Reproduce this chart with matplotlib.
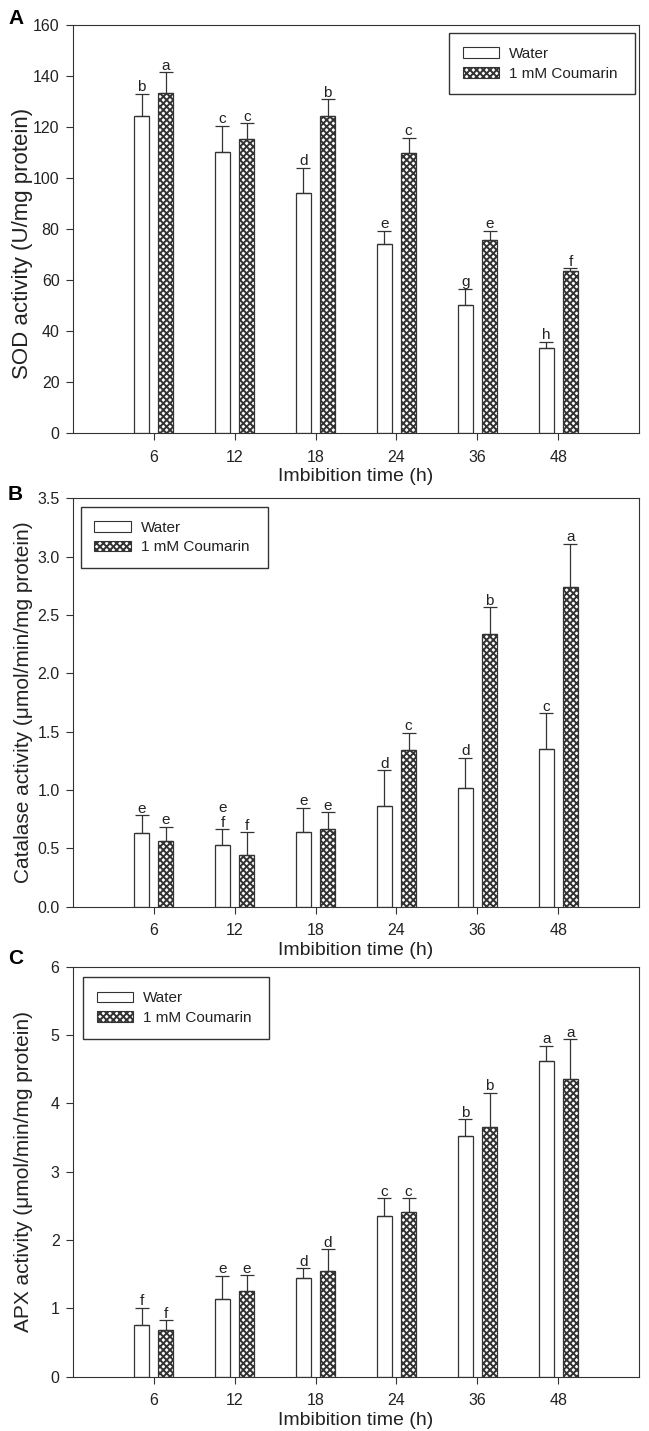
import numpy as np
import matplotlib
matplotlib.use('Agg')
import matplotlib.pyplot as plt
from matplotlib.patches import Patch

plt.rcParams['font.family'] = ['Liberation Sans', 'DejaVu Sans']
plt.rcParams['hatch.linewidth'] = 1.4

times = ['6', '12', '18', '24', '36', '48']
series_names = ['Water', '1 mM Coumarin']

# A - SOD
sod_water = [124.5, 110.1, 94.0, 74.3, 50.3, 33.6]
sod_water_err = [8.6, 10.5, 10.0, 5.1, 6.4, 2.2]
sod_coum = [133.4, 115.2, 124.5, 109.8, 75.8, 63.6]
sod_coum_err = [8.1, 6.3, 6.5, 6.1, 3.5, 1.1]
sod_water_let = ['b', 'c', 'd', 'e', 'g', 'h']
sod_coum_let = ['a', 'c', 'b', 'c', 'e', 'f']

# B - catalase
cat_water = [0.63, 0.53, 0.64, 0.86, 1.02, 1.35]
cat_water_err = [0.155, 0.135, 0.21, 0.31, 0.255, 0.31]
cat_coum = [0.56, 0.44, 0.67, 1.34, 2.34, 2.74]
cat_coum_err = [0.125, 0.20, 0.14, 0.15, 0.225, 0.37]
cat_water_let = ['e', 'e\nf', 'e', 'd', 'd', 'c']
cat_coum_let = ['e', 'f', 'e', 'c', 'b', 'a']

# C - APX
apx_water = [0.756, 1.137, 1.449, 2.351, 3.527, 4.62]
apx_water_err = [0.254, 0.341, 0.14, 0.259, 0.239, 0.224]
apx_coum = [0.683, 1.249, 1.551, 2.405, 3.649, 4.361]
apx_coum_err = [0.141, 0.239, 0.312, 0.205, 0.507, 0.58]
apx_water_let = ['f', 'e', 'd', 'c', 'b', 'a']
apx_coum_let = ['f', 'e', 'd', 'c', 'b', 'a']

LINE = '#333333'
TXT = '#222222'
HATCH = 'xxxxx'
W = 0.18
OFF = 0.15

fig = plt.figure(figsize=(6.49, 14.31), dpi=100)
left, width = 72.7/649, 566.6/649

def px_axes(top, bottom):
    return fig.add_axes([left, 1 - bottom/1431, width, (bottom - top)/1431])

def draw_panel(ax, water, werr, coum, cerr, wlet, clet, ylim, yticks, yfmt, ylabel, ylsize, ylab_y, legbox):
    x = np.arange(1, len(times) + 1)
    ax.bar(x - OFF, water, W, color='white', edgecolor=LINE, linewidth=0.9, zorder=2)
    ax.bar(x + OFF, coum, W, color='white', edgecolor=LINE, linewidth=0.9, hatch=HATCH, zorder=2)
    for xs, v, e in ((x - OFF, water, werr), (x + OFF, coum, cerr)):
        ax.errorbar(xs, v, yerr=[np.zeros(len(v)), e], fmt='none', ecolor=LINE,
                    elinewidth=0.9, capsize=4.7, capthick=0.9, zorder=3)
    for xs, v, e, lets in ((x - OFF, water, werr, wlet), (x + OFF, coum, cerr, clet)):
        for xi, vi, ei, l in zip(xs, v, e, lets):
            ax.annotate(l, (xi, vi + ei), xytext=(0, -0.4), textcoords='offset points',
                        ha='center', va='bottom', fontsize=11, color=TXT, linespacing=1.1)
    ax.set_xlim(0, 7)
    ax.set_ylim(*ylim)
    ax.set_xticks(x)
    ax.set_xticklabels(times)
    ax.set_yticks(yticks)
    ax.set_yticklabels([yfmt.format(t) for t in yticks])
    ax.tick_params(axis='both', direction='out', length=5, width=0.8, color=LINE,
                   labelsize=11.5, labelcolor=TXT)
    ax.tick_params(axis='x', pad=7)
    ax.tick_params(axis='y', pad=4.5)
    for s in ax.spines.values():
        s.set_linewidth(0.8)
        s.set_color(LINE)
    ax.set_xlabel('Imbibition time (h)', fontsize=14, color=TXT, labelpad=2.5)
    ax.set_ylabel(ylabel, fontsize=ylsize, color=TXT)
    ax.yaxis.set_label_coords(-0.07, ylab_y)
    handles = [Patch(facecolor='white', edgecolor=LINE, linewidth=0.8),
               Patch(facecolor='white', edgecolor=LINE, linewidth=0.8, hatch=HATCH)]
    leg = ax.legend(handles, series_names, loc='upper left', bbox_to_anchor=legbox, mode='expand',
                    fancybox=False, framealpha=1, edgecolor=LINE, fontsize=11,
                    handlelength=2.4, handleheight=0.68, handletextpad=0.64,
                    borderpad=0.9, labelspacing=0.38, borderaxespad=0)
    leg.get_frame().set_linewidth(1.0)
    for t in leg.get_texts():
        t.set_color(TXT)

axA = px_axes(25.0, 433.3)
draw_panel(axA, sod_water, sod_water_err, sod_coum, sod_coum_err, sod_water_let, sod_coum_let,
           (0, 160), np.arange(0, 161, 20), '{:.0f}', 'SOD activity (U/mg protein)', 16, 0.465,
           (0.664, 0.8286, 0.328, 0.1514))

axB = px_axes(498.3, 906.7)
draw_panel(axB, cat_water, cat_water_err, cat_coum, cat_coum_err, cat_water_let, cat_coum_let,
           (0, 3.5), np.arange(0, 3.51, 0.5), '{:.1f}', 'Catalase activity (\u03bcmol/min/mg protein)', 15, 0.5,
           (0.0141, 0.831, 0.330, 0.148))

axC = px_axes(966.7, 1376.7)
draw_panel(axC, apx_water, apx_water_err, apx_coum, apx_coum_err, apx_water_let, apx_coum_let,
           (0, 6), np.arange(0, 7, 1), '{:.0f}', 'APX activity (\u03bcmol/min/mg protein)', 15, 0.5,
           (0.0178, 0.825, 0.329, 0.149))

for lab, ypx in (('A', 18), ('B', 495), ('C', 959)):
    fig.text(8/649, 1 - ypx/1431, lab, fontsize=15, fontweight='bold', ha='left', va='center', color='black')

fig.savefig('out.png', dpi=100)
